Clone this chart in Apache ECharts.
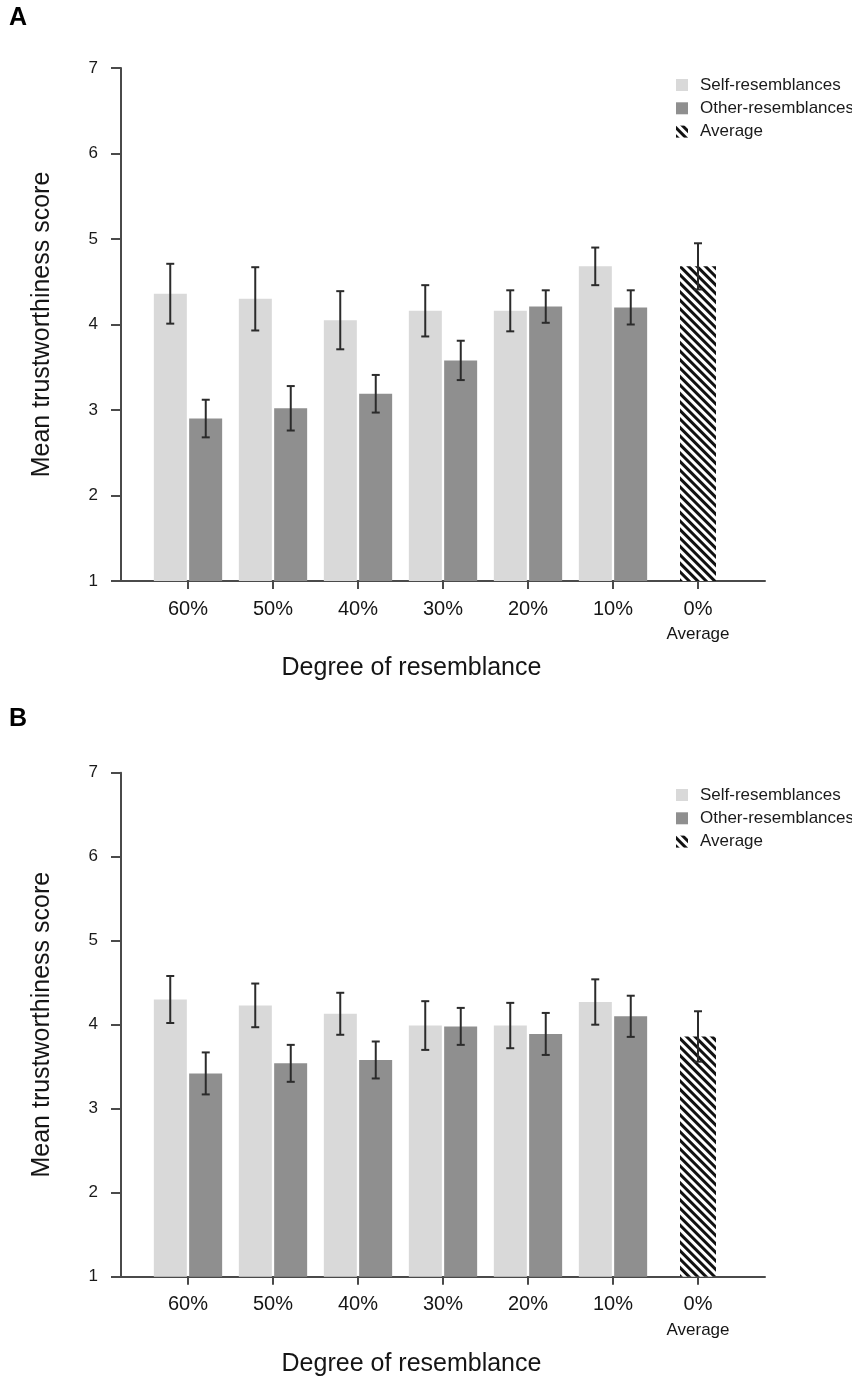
<!DOCTYPE html>
<html>
<head>
<meta charset="utf-8">
<script src="https://cdn.jsdelivr.net/npm/echarts@6/dist/echarts.min.js"></script>
<style>
html,body{margin:0;padding:0;background:#fff;}
#chart{width:852px;height:1378px;}
</style>
</head>
<body>
<div id="chart"></div>
<script>
// ---- Data ----
const categories = ['60%', '50%', '40%', '30%', '20%', '10%', '0%'];
const yTicks = [1, 2, 3, 4, 5, 6, 7];
const seriesNames = ['Self-resemblances', 'Other-resemblances', 'Average'];

// Panel A
const aSelf = [4.36, 4.30, 4.05, 4.16, 4.16, 4.68];
const aSelfErr = [0.35, 0.37, 0.34, 0.30, 0.24, 0.22];
const aOther = [2.90, 3.02, 3.19, 3.58, 4.21, 4.20];
const aOtherErr = [0.22, 0.26, 0.22, 0.23, 0.19, 0.20];
const aAvg = 4.68;
const aAvgErr = 0.27;

// Panel B
const bSelf = [4.30, 4.23, 4.13, 3.99, 3.99, 4.27];
const bSelfErr = [0.28, 0.26, 0.25, 0.29, 0.27, 0.27];
const bOther = [3.42, 3.54, 3.58, 3.98, 3.89, 4.10];
const bOtherErr = [0.25, 0.22, 0.22, 0.22, 0.25, 0.245];
const bAvg = 3.86;
const bAvgErr = 0.30;

// ---- Styles ----
const FONT = "'Liberation Sans', Arial, sans-serif";
const AXIS = '#4a4a4a';
const SELF_COLOR = '#d9d9d9';
const OTHER_COLOR = '#8f8f8f';
const hatch = {
  symbol: 'rect', symbolSize: 1, color: '#111',
  dashArrayX: [1, 0], dashArrayY: [2.5, 2.5], rotation: Math.PI / 4
};

function errRender(offset) {
  return function (params, api) {
    const x = api.value(0), m = api.value(1), e = api.value(2);
    const t = api.coord([x, m + e]);
    const b = api.coord([x, m - e]);
    const cx = t[0] + offset;
    const style = { stroke: '#2b2b2b', lineWidth: 2 };
    return {
      type: 'group',
      children: [
        { type: 'line', shape: { x1: cx, y1: t[1], x2: cx, y2: b[1] }, style },
        { type: 'line', shape: { x1: cx - 4, y1: t[1], x2: cx + 4, y2: t[1] }, style },
        { type: 'line', shape: { x1: cx - 4, y1: b[1], x2: cx + 4, y2: b[1] }, style }
      ]
    };
  };
}

function panel(p, self, selfErr, other, otherErr, avg, avgErr) {
  const cx = 3 * p + 1, ax = 3 * p + 2, by = 2 * p + 1;
  const avgData = categories.map((c, i) => i === categories.length - 1 ? avg : null);
  return [
    {
      name: seriesNames[0], type: 'bar', xAxisIndex: cx, yAxisIndex: by,
      data: self, barWidth: 33, barGap: '7%',
      itemStyle: { color: SELF_COLOR }
    },
    {
      name: seriesNames[1], type: 'bar', xAxisIndex: cx, yAxisIndex: by,
      data: other, barWidth: 33, barGap: '7%',
      itemStyle: { color: OTHER_COLOR }
    },
    {
      name: seriesNames[2], type: 'bar', xAxisIndex: ax, yAxisIndex: by,
      data: avgData, barWidth: 36,
      itemStyle: { color: '#fff', decal: hatch }
    },
    {
      type: 'custom', xAxisIndex: cx, yAxisIndex: by, z: 5,
      renderItem: errRender(-17.75), encode: { x: 0, y: 1 },
      data: self.map((v, i) => [i, v, selfErr[i]])
    },
    {
      type: 'custom', xAxisIndex: cx, yAxisIndex: by, z: 5,
      renderItem: errRender(17.75), encode: { x: 0, y: 1 },
      data: other.map((v, i) => [i, v, otherErr[i]])
    },
    {
      type: 'custom', xAxisIndex: cx, yAxisIndex: by, z: 5,
      renderItem: errRender(0), encode: { x: 0, y: 1 },
      data: [[categories.length - 1, avg, avgErr]]
    }
  ];
}

function xAxes(gFrame, gBars) {
  return [
    {
      gridIndex: gFrame, type: 'value', min: 0, max: 1,
      axisLine: { show: true, lineStyle: { color: AXIS, width: 2 } },
      axisTick: { show: false }, axisLabel: { show: false }, splitLine: { show: false }
    },
    {
      gridIndex: gBars, type: 'category', data: categories, boundaryGap: true,
      axisLine: { show: false },
      axisTick: { show: true, alignWithLabel: true, interval: 0, length: 8, lineStyle: { color: AXIS, width: 2 } },
      axisLabel: {
        interval: 0, margin: 17, fontSize: 20, lineHeight: 22, color: '#151515', fontFamily: FONT,
        formatter: v => v === '0%' ? '0%\n{s|Average}' : v,
        rich: { s: { fontSize: 17, lineHeight: 29, color: '#151515', fontFamily: FONT } }
      },
      name: 'Degree of resemblance', nameLocation: 'middle', nameGap: 75,
      nameTextStyle: { fontSize: 25, color: '#151515', fontFamily: FONT, padding: [0, 63, 0, 0] }
    },
    {
      gridIndex: gBars, type: 'category', data: categories, show: false
    }
  ];
}

function yAxes(gFrame, gBars) {
  return [
    {
      gridIndex: gFrame, type: 'value', min: 1, max: 7, interval: 1,
      axisLine: { show: true, lineStyle: { color: AXIS, width: 2 } },
      axisTick: { show: true, inside: false, length: 10, lineStyle: { color: AXIS, width: 2 } },
      axisLabel: { margin: 23, fontSize: 17, color: '#1a1a1a', fontFamily: FONT,
        formatter: v => yTicks.includes(v) ? String(v) : '' },
      splitLine: { show: false },
      name: 'Mean trustworthiness score', nameLocation: 'middle', nameGap: 66,
      nameTextStyle: { fontSize: 25, color: '#151515', fontFamily: FONT }
    },
    {
      gridIndex: gBars, type: 'value', min: 1, max: 7, interval: 1, show: false,
      splitLine: { show: false }
    }
  ];
}

function legend(top) {
  return {
    orient: 'vertical', left: 671, top: top, data: seriesNames,
    icon: 'rect', itemWidth: 12, itemHeight: 12, itemGap: 3.3,
    textStyle: { fontSize: 17, lineHeight: 20, color: '#1a1a1a', fontFamily: FONT, padding: [0, 0, 0, 7] },
    selectedMode: false
  };
}

const option = {
  animation: false,
  backgroundColor: '#fff',
  title: [
    { text: 'A', left: 9, top: 6, padding: 0, textStyle: { fontSize: 25, fontWeight: 'bold', color: '#000', fontFamily: FONT } },
    { text: 'B', left: 9, top: 707, padding: 0, textStyle: { fontSize: 25, fontWeight: 'bold', color: '#000', fontFamily: FONT } }
  ],
  legend: [legend(70), legend(780)],
  grid: [
    { left: 121, top: 68, width: 644, height: 513 },
    { left: 145.5, top: 68, width: 595, height: 513 },
    { left: 121, top: 772.7, width: 644, height: 504 },
    { left: 145.5, top: 772.7, width: 595, height: 504 }
  ],
  xAxis: [...xAxes(0, 1), ...xAxes(2, 3)],
  yAxis: [...yAxes(0, 1), ...yAxes(2, 3)],
  series: [
    ...panel(0, aSelf, aSelfErr, aOther, aOtherErr, aAvg, aAvgErr),
    ...panel(1, bSelf, bSelfErr, bOther, bOtherErr, bAvg, bAvgErr)
  ]
};

const chart = echarts.init(document.getElementById('chart'), null, { renderer: 'canvas' });
chart.setOption(option);
</script>
</body>
</html>
